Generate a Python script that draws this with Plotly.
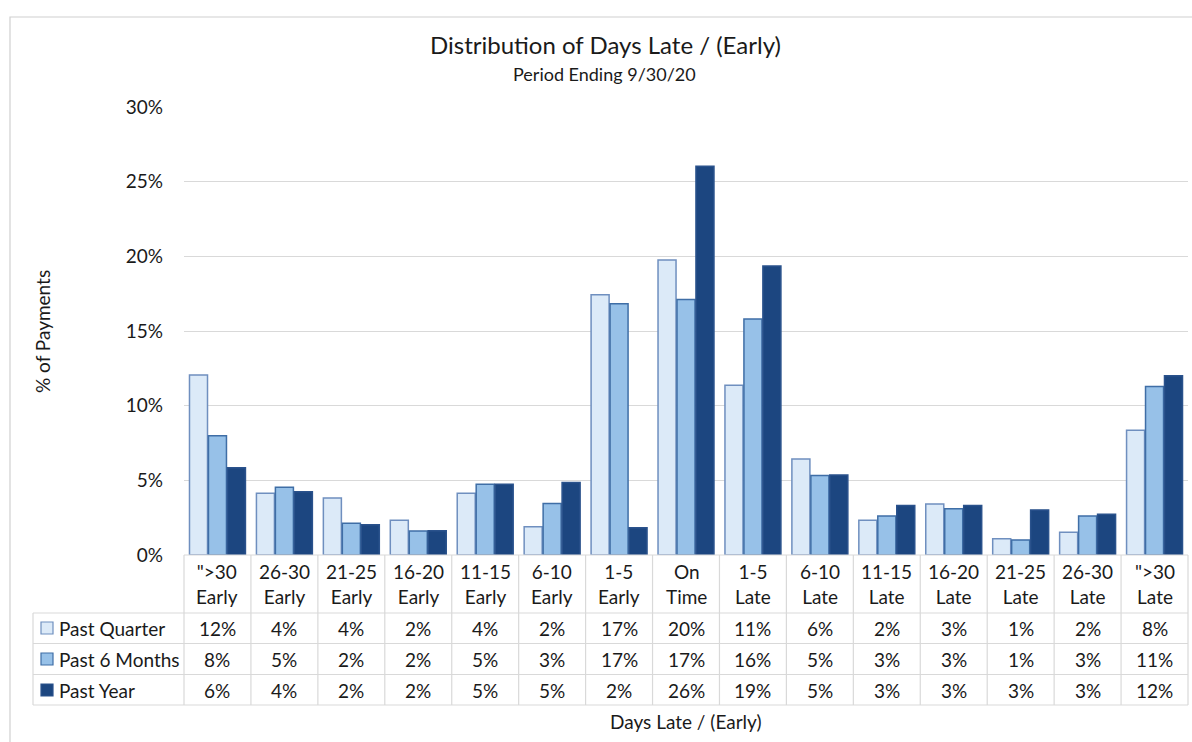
import plotly.graph_objects as go

# Day buckets (upper and lower line of each header cell)
bucket_top = ['">30', "26-30", "21-25", "16-20", "11-15", "6-10", "1-5", "On",
              "1-5", "6-10", "11-15", "16-20", "21-25", "26-30", '">30']
bucket_bottom = ["Early"] * 7 + ["Time"] + ["Late"] * 7
categories = [f"{t}<br>{b}" for t, b in zip(bucket_top, bucket_bottom)]

series_names = ["Past Quarter", "Past 6 Months", "Past Year"]

# Share of payments (%)
past_quarter = [12.06, 4.13, 3.82, 2.32, 4.13, 1.90, 17.43, 19.75, 11.37, 6.43, 2.32, 3.42, 1.09, 1.52, 8.36]
past_6_months = [7.98, 4.54, 2.12, 1.61, 4.74, 3.45, 16.82, 17.11, 15.80, 5.32, 2.61, 3.10, 1.01, 2.61, 11.28]
past_year = [5.85, 4.24, 2.03, 1.63, 4.74, 4.85, 1.83, 26.03, 19.35, 5.36, 3.31, 3.31, 3.02, 2.73, 12.00]

y_ticks = [0, 5, 10, 15, 20, 25, 30]
y_tick_labels = [f"{v}%" for v in y_ticks]

series_values = [past_quarter, past_6_months, past_year]
fills = ["#DCEAF8", "#97C1E8", "#1C4680"]
edges = ["#6F8FBF", "#3F6EA6", "#2A528C"]

FONT = "Lato, Carlito, Calibri, sans-serif"
TXT = "#1A1A1A"
GRID = "#D9D9D9"

W, H = 1192, 742
L, R, T, B = 184, 4, 107, 187
PW, PH = W - L - R, H - T - B
bottom_px = H - B


def px_x(px):
    return (px - L) / PW


def px_y(py):
    return (bottom_px - py) / PH


fig = go.Figure()
for name, vals, fc, ec in zip(series_names, series_values, fills, edges):
    fig.add_trace(go.Bar(
        x=categories, y=vals, name=name,
        marker=dict(color=fc, line=dict(color=ec, width=1.5)),
        showlegend=False,
    ))

shapes = []
annotations = []

# outer frame of the chart area
shapes.append(dict(type="rect", xref="paper", yref="paper",
                   x0=px_x(10), x1=px_x(1230), y0=px_y(17), y1=px_y(800),
                   line=dict(color="#D0D0D0", width=1.2), fillcolor="rgba(0,0,0,0)", layer="below"))

# data table grid
row_lines = [613, 643.5, 674.5, 705]
for ry in row_lines:
    shapes.append(dict(type="line", xref="paper", yref="paper",
                       x0=px_x(33), x1=1, y0=px_y(ry), y1=px_y(ry),
                       line=dict(color=GRID, width=1.2)))
shapes.append(dict(type="line", xref="paper", yref="paper",
                   x0=0, x1=1, y0=0, y1=0, line=dict(color=GRID, width=1.2)))
n = len(categories)
for i in range(n + 1):
    shapes.append(dict(type="line", xref="paper", yref="paper",
                       x0=i / n, x1=i / n, y0=0, y1=px_y(705),
                       line=dict(color=GRID, width=1.2)))
shapes.append(dict(type="line", xref="paper", yref="paper",
                   x0=px_x(33), x1=px_x(33), y0=px_y(613), y1=px_y(705),
                   line=dict(color=GRID, width=1.2)))

# header cells
for cat in categories:
    annotations.append(dict(x=cat, y=px_y(584), xref="x", yref="paper",
                            text=cat, showarrow=False, yanchor="middle",
                            font=dict(family=FONT, size=19, color=TXT)))

# table rows: legend key, series name, rounded values
row_centers = [628, 659, 690]
for rc, name, vals, fc, ec in zip(row_centers, series_names, series_values, fills, edges):
    shapes.append(dict(type="rect", xref="paper", yref="paper",
                       x0=px_x(41), x1=px_x(53), y0=px_y(rc + 6), y1=px_y(rc - 6),
                       fillcolor=fc, line=dict(color=ec, width=1.2)))
    annotations.append(dict(x=px_x(57), y=px_y(rc), xref="paper", yref="paper",
                            text=name, showarrow=False, xanchor="left", yanchor="middle",
                            font=dict(family=FONT, size=19, color=TXT)))
    for cat, v in zip(categories, vals):
        annotations.append(dict(x=cat, y=px_y(rc), xref="x", yref="paper",
                                text=f"{v:.0f}%", showarrow=False, yanchor="middle",
                                font=dict(family=FONT, size=19, color=TXT)))

# titles
annotations.append(dict(x=px_x(605), y=px_y(44), xref="paper", yref="paper",
                        text="Distribution of Days Late / (Early)", showarrow=False,
                        yanchor="middle", font=dict(family=FONT, size=24, color=TXT)))
annotations.append(dict(x=px_x(604), y=px_y(74), xref="paper", yref="paper",
                        text="Period Ending 9/30/20", showarrow=False,
                        yanchor="middle", font=dict(family=FONT, size=18, color=TXT)))
annotations.append(dict(x=px_x(42), y=px_y(332), xref="paper", yref="paper",
                        text="% of Payments", showarrow=False, textangle=-90,
                        xanchor="center", yanchor="middle",
                        font=dict(family=FONT, size=19, color=TXT)))
annotations.append(dict(x=px_x(686), y=px_y(721), xref="paper", yref="paper",
                        text="Days Late / (Early)", showarrow=False,
                        yanchor="middle", font=dict(family=FONT, size=19, color=TXT)))

fig.update_layout(
    width=W, height=H,
    margin=dict(l=L, r=R, t=T, b=B, pad=0),
    paper_bgcolor="white", plot_bgcolor="white",
    barmode="group", bargap=0.15, bargroupgap=0.05,
    shapes=shapes, annotations=annotations,
    xaxis=dict(type="category", range=[-0.5, n - 0.5], showticklabels=False,
               showgrid=False, zeroline=False, showline=False, ticks=""),
    yaxis=dict(range=[0, 30], tickmode="array", tickvals=y_ticks, ticktext=y_tick_labels,
               showgrid=True, gridcolor=GRID, gridwidth=1.2, zeroline=False,
               showline=False, ticks="", ticklabelstandoff=20,
               tickfont=dict(family=FONT, size=19, color=TXT)),
    font=dict(family=FONT, color=TXT),
)

fig.write_html("out.html")
